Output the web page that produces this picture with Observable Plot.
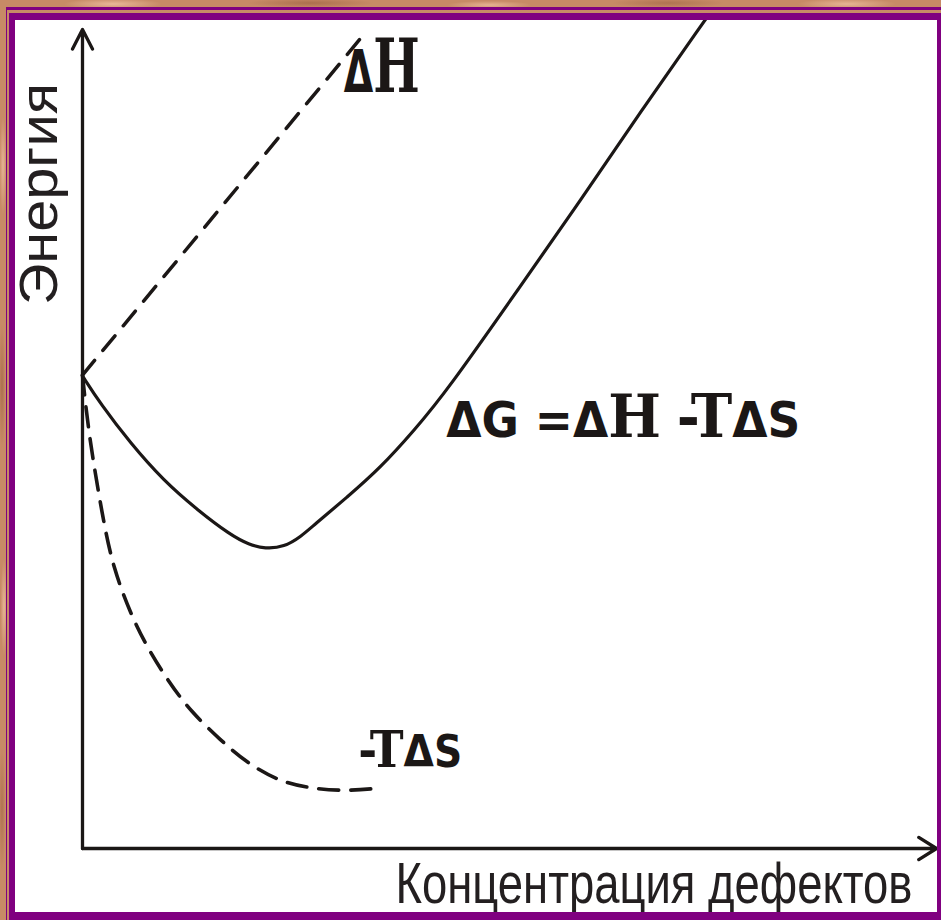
<!DOCTYPE html>
<html>
<head>
<meta charset="utf-8">
<script src="https://cdn.jsdelivr.net/npm/d3@7"></script>
<script src="https://cdn.jsdelivr.net/npm/@observablehq/plot@0.6"></script>
<style>
  html, body { margin: 0; padding: 0; }
  body { width: 941px; height: 920px; overflow: hidden; }
  #page {
    position: relative; width: 941px; height: 920px;
    background:
      radial-gradient(70px 8px at 12% 4px, rgba(255,214,186,.6), transparent 70%),
      radial-gradient(90px 7px at 33% 3px, rgba(120,62,34,.35), transparent 70%),
      radial-gradient(60px 6px at 52% 5px, rgba(255,212,182,.55), transparent 70%),
      radial-gradient(80px 7px at 71% 3px, rgba(120,62,34,.3), transparent 70%),
      radial-gradient(70px 8px at 90% 4px, rgba(255,214,186,.55), transparent 70%),
      radial-gradient(5px 70px at 3px 18%, rgba(255,214,186,.55), transparent 70%),
      radial-gradient(5px 90px at 2px 42%, rgba(120,62,34,.35), transparent 70%),
      radial-gradient(5px 70px at 4px 66%, rgba(255,214,186,.55), transparent 70%),
      radial-gradient(5px 90px at 2px 88%, rgba(120,62,34,.3), transparent 70%),
      #c78a66;
  }
  #rim {
    position: absolute; left: 6px; top: 7px; right: 0; bottom: 0;
    border-left: 1px solid #800080; border-top: 3px solid #800080;
  }
  #panel {
    position: absolute; left: 9px; top: 13px; right: 0; bottom: 0;
    box-sizing: border-box; background: #fff;
    border-left: 6px solid #800080; border-top: 7px solid #800080;
    border-right: 4px solid #800080; border-bottom: 8px solid #800080;
  }
  #chart { position: absolute; left: 0; top: 0; }
  #chart svg { display: block; clip-path: inset(20px 4px 8px 15px); }
</style>
</head>
<body>
<div id="page">
  <div id="rim"></div>
  <div id="panel"></div>
  <div id="chart"></div>
</div>
<script>
// Axis extents (arbitrary units)
const xMax = 10;
const yMax = 10;

// ΔH — enthalpy of defect formation, a straight rise
const hConc   = [0, 3.31];
const hEnergy = [5.78, 9.96];

// ΔG = ΔH − TΔS — free energy, with a minimum
const gConc   = [0, 0.21, 0.56, 0.95, 1.35, 1.73, 1.95, 2.14, 2.36, 2.56, 2.70, 3.10, 3.49, 3.88, 4.27, 5.13, 5.83, 6.53, 7.30];
const gEnergy = [5.77, 5.43, 4.95, 4.49, 4.13, 3.83, 3.71, 3.66, 3.68, 3.81, 3.94, 4.29, 4.65, 5.10, 5.59, 6.87, 7.91, 8.99, 10.13];

// −TΔS — entropy term
const sConc   = [0, 0.04, 0.09, 0.15, 0.25, 0.36, 0.56, 0.76, 1.00, 1.26, 1.62, 1.93, 2.32, 2.70, 3.10, 3.49];
const sEnergy = [5.78, 5.38, 4.98, 4.58, 3.97, 3.43, 2.87, 2.45, 2.05, 1.68, 1.32, 1.04, 0.81, 0.73, 0.70, 0.74];

// Curve labels and their anchors (start of text, baseline)
const curveLabels = ["ΔH", "ΔG =ΔH -TΔS", "-TΔS"];
const curveLabelX = [3.06, 4.26, 3.23];
const curveLabelY = [9.24, 5.02, 0.99];

// Axis titles
const xTitle = "Концентрация дефектов";
const yTitle = "Энергия";

const ink = "#1b1716";
const pts = (xs, ys) => xs.map((x, i) => ({x, y: ys[i]}));

const chart = Plot.plot({
  width: 941,
  height: 920,
  marginLeft: 82,
  marginRight: 5,
  marginTop: 29,
  marginBottom: 72,
  x: {domain: [0, xMax], axis: null},
  y: {domain: [0, yMax], axis: null},
  style: {background: "transparent", overflow: "visible"},
  marks: [
    // axes with open arrowheads
    Plot.arrow([{x1: 0, y1: 0, x2: 0, y2: yMax}], {
      x1: "x1", y1: "y1", x2: "x2", y2: "y2",
      stroke: ink, strokeWidth: 3.3, headAngle: 54, headLength: 10
    }),
    Plot.arrow([{x1: 0, y1: 0, x2: xMax, y2: 0}], {
      x1: "x1", y1: "y1", x2: "x2", y2: "y2",
      stroke: ink, strokeWidth: 3.3, headAngle: 64, headLength: 9.5
    }),
    // curves
    Plot.line(pts(hConc, hEnergy), {
      x: "x", y: "y", stroke: ink, strokeWidth: 3.5, strokeDasharray: "19,13"
    }),
    Plot.line(pts(sConc, sEnergy), {
      x: "x", y: "y", stroke: ink, strokeWidth: 3.6, strokeDasharray: "20,12", curve: "basis"
    }),
    Plot.line(pts(gConc, gEnergy), {
      x: "x", y: "y", stroke: ink, strokeWidth: 3.2, curve: "basis"
    }),
    // curve labels
    Plot.text(curveLabels, {
      x: curveLabelX, y: curveLabelY, text: d => d,
      textAnchor: "start", lineAnchor: "bottom", fill: ink, fontWeight: "bold"
    }),
    // axis titles
    Plot.text([xTitle], {
      x: [3.665], y: [-0.66], text: d => d,
      textAnchor: "start", lineAnchor: "bottom", fill: "#231f20",
      fontSize: 58, fontFamily: "Liberation Sans, Arial, sans-serif"
    }),
    Plot.text([yTitle], {
      x: [-0.3], y: [7.99], text: d => d, rotate: -90,
      textAnchor: "middle", lineAnchor: "bottom", fill: "#231f20",
      fontSize: 54, fontFamily: "Liberation Sans, Arial, sans-serif"
    })
  ]
});

// Typeset the formula labels: slab-serif H, T and minus; bold sans for Δ, G, =, S
const formulaStyle = {
  "ΔH":          {sans: 58, serif: 75, length: 76},
  "ΔG =ΔH -TΔS": {sans: 49, serif: 60, length: 354},
  "-TΔS":        {sans: 44, serif: 51, length: 104}
};
const svgNS = "http://www.w3.org/2000/svg";
chart.querySelectorAll("text").forEach(t => {
  const content = t.textContent;
  const f = formulaStyle[content];
  if (f) {
    t.textContent = "";
    t.style.whiteSpace = "pre";
    for (const ch of content) {
      const span = document.createElementNS(svgNS, "tspan");
      const serif = ch === "H" || ch === "T" || ch === "-";
      span.setAttribute("font-family", serif ? "DejaVu Serif" : "DejaVu Sans");
      span.setAttribute("font-size", serif ? f.serif : f.sans);
      span.setAttribute("font-weight", "bold");
      span.textContent = ch;
      t.appendChild(span);
    }
    t.setAttribute("textLength", f.length);
    t.setAttribute("lengthAdjust", "spacingAndGlyphs");
  } else if (content === xTitle) {
    t.setAttribute("textLength", 517);
    t.setAttribute("lengthAdjust", "spacingAndGlyphs");
  } else if (content === yTitle) {
    t.setAttribute("textLength", 222);
    t.setAttribute("lengthAdjust", "spacingAndGlyphs");
  }
});

document.getElementById("chart").appendChild(chart);
</script>
</body>
</html>
